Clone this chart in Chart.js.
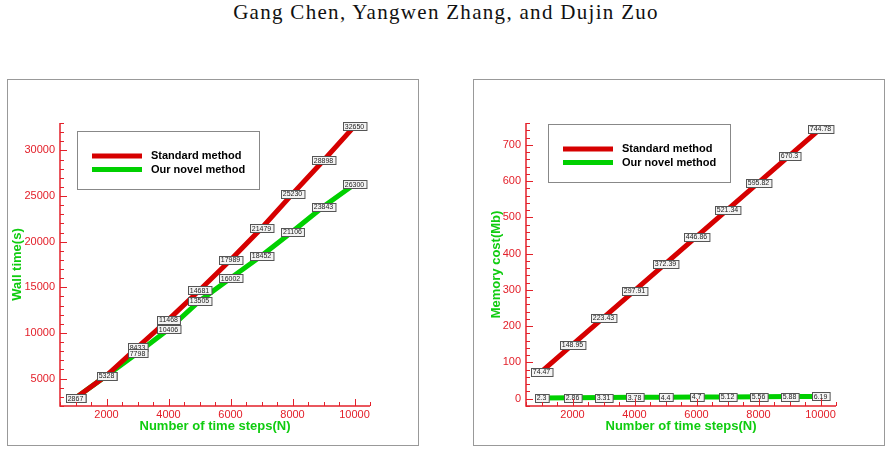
<!DOCTYPE html>
<html>
<head>
<meta charset="utf-8">
<script src="https://cdn.jsdelivr.net/npm/chart.js@4.4.0/dist/chart.umd.min.js"></script>
<style>
  body { margin: 0; width: 892px; height: 453px; background: #fff; position: relative; overflow: hidden; }
  #title { position: absolute; left: 0; top: 2px; width: 892px; text-align: center;
           font-family: "Liberation Serif", "DejaVu Serif", serif; font-size: 21px; line-height: 21px;
           letter-spacing: 1.3px; color: #111; }
  canvas { position: absolute; top: 79px; }
  #wallChart { left: 7px; }
  #memChart { left: 473px; }
</style>
</head>
<body>
<div id="title">Gang Chen, Yangwen Zhang, and Dujin Zuo</div>
<canvas id="wallChart" width="412" height="367"></canvas>
<canvas id="memChart" width="412" height="367"></canvas>
<script>
// time steps N
const steps = [1000, 2000, 3000, 4000, 5000, 6000, 7000, 8000, 9000, 10000];

// wall time (s)
const wallStandard = [2867, 5328, 8433, 11468, 14681, 17989, 21479, 25230, 28898, 32650];
const wallNovel = [2867, 5328, 7798, 10406, 13505, 16002, 18452, 21106, 23843, 26300];

// memory cost (Mb)
const memStandard = [74.47, 148.95, 223.43, 297.91, 372.39, 446.86, 521.34, 595.82, 670.3, 744.78];
const memNovel = [2.3, 2.86, 3.31, 3.78, 4.4, 4.7, 5.12, 5.56, 5.88, 6.19];

// tick labels
const xTicks = [2000, 4000, 6000, 8000, 10000];
const wallTicks = [5000, 10000, 15000, 20000, 25000, 30000];
const memTicks = [0, 100, 200, 300, 400, 500, 600, 700];

const seriesNames = ["Standard method", "Our novel method"];

const RED_LINE = "#d60000";
const GREEN_LINE = "#00d000";
const AXIS_RED = "#e3202a";
const TITLE_GREEN = "#10cc10";
const FONT = "'Liberation Sans', Arial, sans-serif";

// frame + inward ticks + axis lines
const framePlugin = {
  id: "frame",
  beforeDraw(chart) {
    const ctx = chart.ctx;
    ctx.save();
    ctx.strokeStyle = "#999";
    ctx.lineWidth = 1;
    ctx.strokeRect(0.5, 0.5, chart.width - 1, chart.height - 1);
    ctx.restore();
  },
  afterDraw(chart, args, opts) {
    const ctx = chart.ctx;
    const x = chart.scales.x, y = chart.scales.y;
    const a = chart.chartArea;
    ctx.save();
    ctx.strokeStyle = AXIS_RED;
    ctx.lineWidth = 1.5;
    ctx.beginPath();
    ctx.moveTo(a.left, a.top);
    ctx.lineTo(a.left, a.bottom);
    ctx.lineTo(a.right, a.bottom);
    ctx.stroke();

    ctx.lineWidth = 1;
    ctx.beginPath();
    for (let v = Math.ceil(x.min / opts.xMinor) * opts.xMinor; v <= x.max; v += opts.xMinor) {
      const px = Math.round(x.getPixelForValue(v)) + 0.5;
      const len = xTicks.includes(v) ? 7 : 4;
      ctx.moveTo(px, a.bottom);
      ctx.lineTo(px, a.bottom - len);
    }
    for (let v = Math.ceil(y.min / opts.yMinor) * opts.yMinor; v <= y.max; v += opts.yMinor) {
      const py = Math.round(y.getPixelForValue(v)) + 0.5;
      const len = opts.yMajor.includes(v) ? 7 : 4;
      ctx.moveTo(a.left, py);
      ctx.lineTo(a.left + len, py);
    }
    ctx.stroke();
    ctx.restore();
  }
};

// value boxes on each point
const valueBoxPlugin = {
  id: "valueBoxes",
  afterDatasetsDraw(chart) {
    const ctx = chart.ctx;
    ctx.save();
    ctx.font = "7px " + FONT;
    ctx.textAlign = "center";
    ctx.textBaseline = "middle";
    chart.data.datasets.forEach((ds, i) => {
      const meta = chart.getDatasetMeta(i);
      meta.data.forEach((pt, j) => {
        const txt = String(ds.data[j].y);
        const w = ctx.measureText(txt).width + 4;
        const h = 8;
        const bx = Math.round(pt.x - w / 2) + 0.5;
        const by = Math.round(pt.y - h / 2) + 0.5;
        ctx.fillStyle = "#f4f4f4";
        ctx.fillRect(bx, by, w, h);
        ctx.strokeStyle = "#555";
        ctx.lineWidth = 1;
        ctx.strokeRect(bx, by, w, h);
        ctx.fillStyle = "#222";
        ctx.fillText(txt, pt.x, pt.y + 0.5);
      });
    });
    ctx.restore();
  }
};

// legend box inside the plot
const boxLegendPlugin = {
  id: "boxLegend",
  afterDraw(chart, args, opts) {
    const ctx = chart.ctx;
    ctx.save();
    ctx.strokeStyle = "#888";
    ctx.lineWidth = 1;
    ctx.fillStyle = "#fff";
    ctx.fillRect(opts.x, opts.y, 182, 58);
    ctx.strokeRect(opts.x + 0.5, opts.y + 0.5, 182, 58);
    ctx.font = "bold 11px " + FONT;
    ctx.textBaseline = "middle";
    chart.data.datasets.forEach((ds, i) => {
      const ly = opts.y + 25 + i * 13.5;
      ctx.strokeStyle = ds.borderColor;
      ctx.lineWidth = 5;
      ctx.beginPath();
      ctx.moveTo(opts.x + 15, ly);
      ctx.lineTo(opts.x + 65, ly);
      ctx.stroke();
      ctx.fillStyle = "#000";
      ctx.fillText(ds.label, opts.x + 74, ly);
    });
    ctx.restore();
  }
};

function makeChart(canvasId, standard, novel, yMin, yMax, yMajor, yMinor, yTitle, yTitlePad, legendPos) {
  return new Chart(document.getElementById(canvasId), {
    type: "line",
    data: {
      datasets: [
        {
          label: seriesNames[0],
          data: steps.map((n, i) => ({ x: n, y: standard[i] })),
          borderColor: RED_LINE,
          borderWidth: 5,
          pointRadius: 0,
          tension: 0
        },
        {
          label: seriesNames[1],
          data: steps.map((n, i) => ({ x: n, y: novel[i] })),
          borderColor: GREEN_LINE,
          borderWidth: 5,
          pointRadius: 0,
          tension: 0
        }
      ]
    },
    options: {
      responsive: false,
      animation: false,
      layout: { padding: { left: 0, top: 44, right: 49, bottom: 0 } },
      plugins: {
        legend: { display: false },
        tooltip: { enabled: false },
        frame: { xMinor: 500, yMinor: yMinor, yMajor: yMajor },
        boxLegend: legendPos
      },
      scales: {
        x: {
          type: "linear",
          min: 500,
          max: 10500,
          afterBuildTicks: s => { s.ticks = xTicks.map(v => ({ value: v })); },
          afterFit: s => { s.height = 40; },
          grid: { display: false, drawTicks: false },
          border: { display: false },
          ticks: { color: AXIS_RED, font: { family: FONT, size: 11 }, padding: 2, maxRotation: 0,
                   callback: v => String(v) },
          title: {
            display: true,
            text: "Number of time steps(N)",
            color: TITLE_GREEN,
            font: { family: FONT, size: 13, weight: "bold" },
            padding: { top: 0, bottom: 12 }
          }
        },
        y: {
          min: yMin,
          max: yMax,
          afterBuildTicks: s => { s.ticks = yMajor.map(v => ({ value: v })); },
          afterFit: s => { s.width = 53; },
          grid: { display: false, drawTicks: false },
          border: { display: false },
          ticks: { color: AXIS_RED, font: { family: FONT, size: 11 }, padding: 5,
                   callback: v => String(v) },
          title: {
            display: true,
            text: yTitle,
            color: TITLE_GREEN,
            font: { family: FONT, size: 13, weight: "bold" },
            padding: { top: yTitlePad, bottom: 0 }
          }
        }
      }
    },
    plugins: [framePlugin, valueBoxPlugin, boxLegendPlugin]
  });
}

makeChart("wallChart", wallStandard, wallNovel, 2000, 33000, wallTicks, 1000, "Wall time(s)", 3, { x: 70, y: 52 });
makeChart("memChart", memStandard, memNovel, -20, 760, memTicks, 20, "Memory cost(Mb)", 16, { x: 75, y: 45 });
</script>
</body>
</html>
